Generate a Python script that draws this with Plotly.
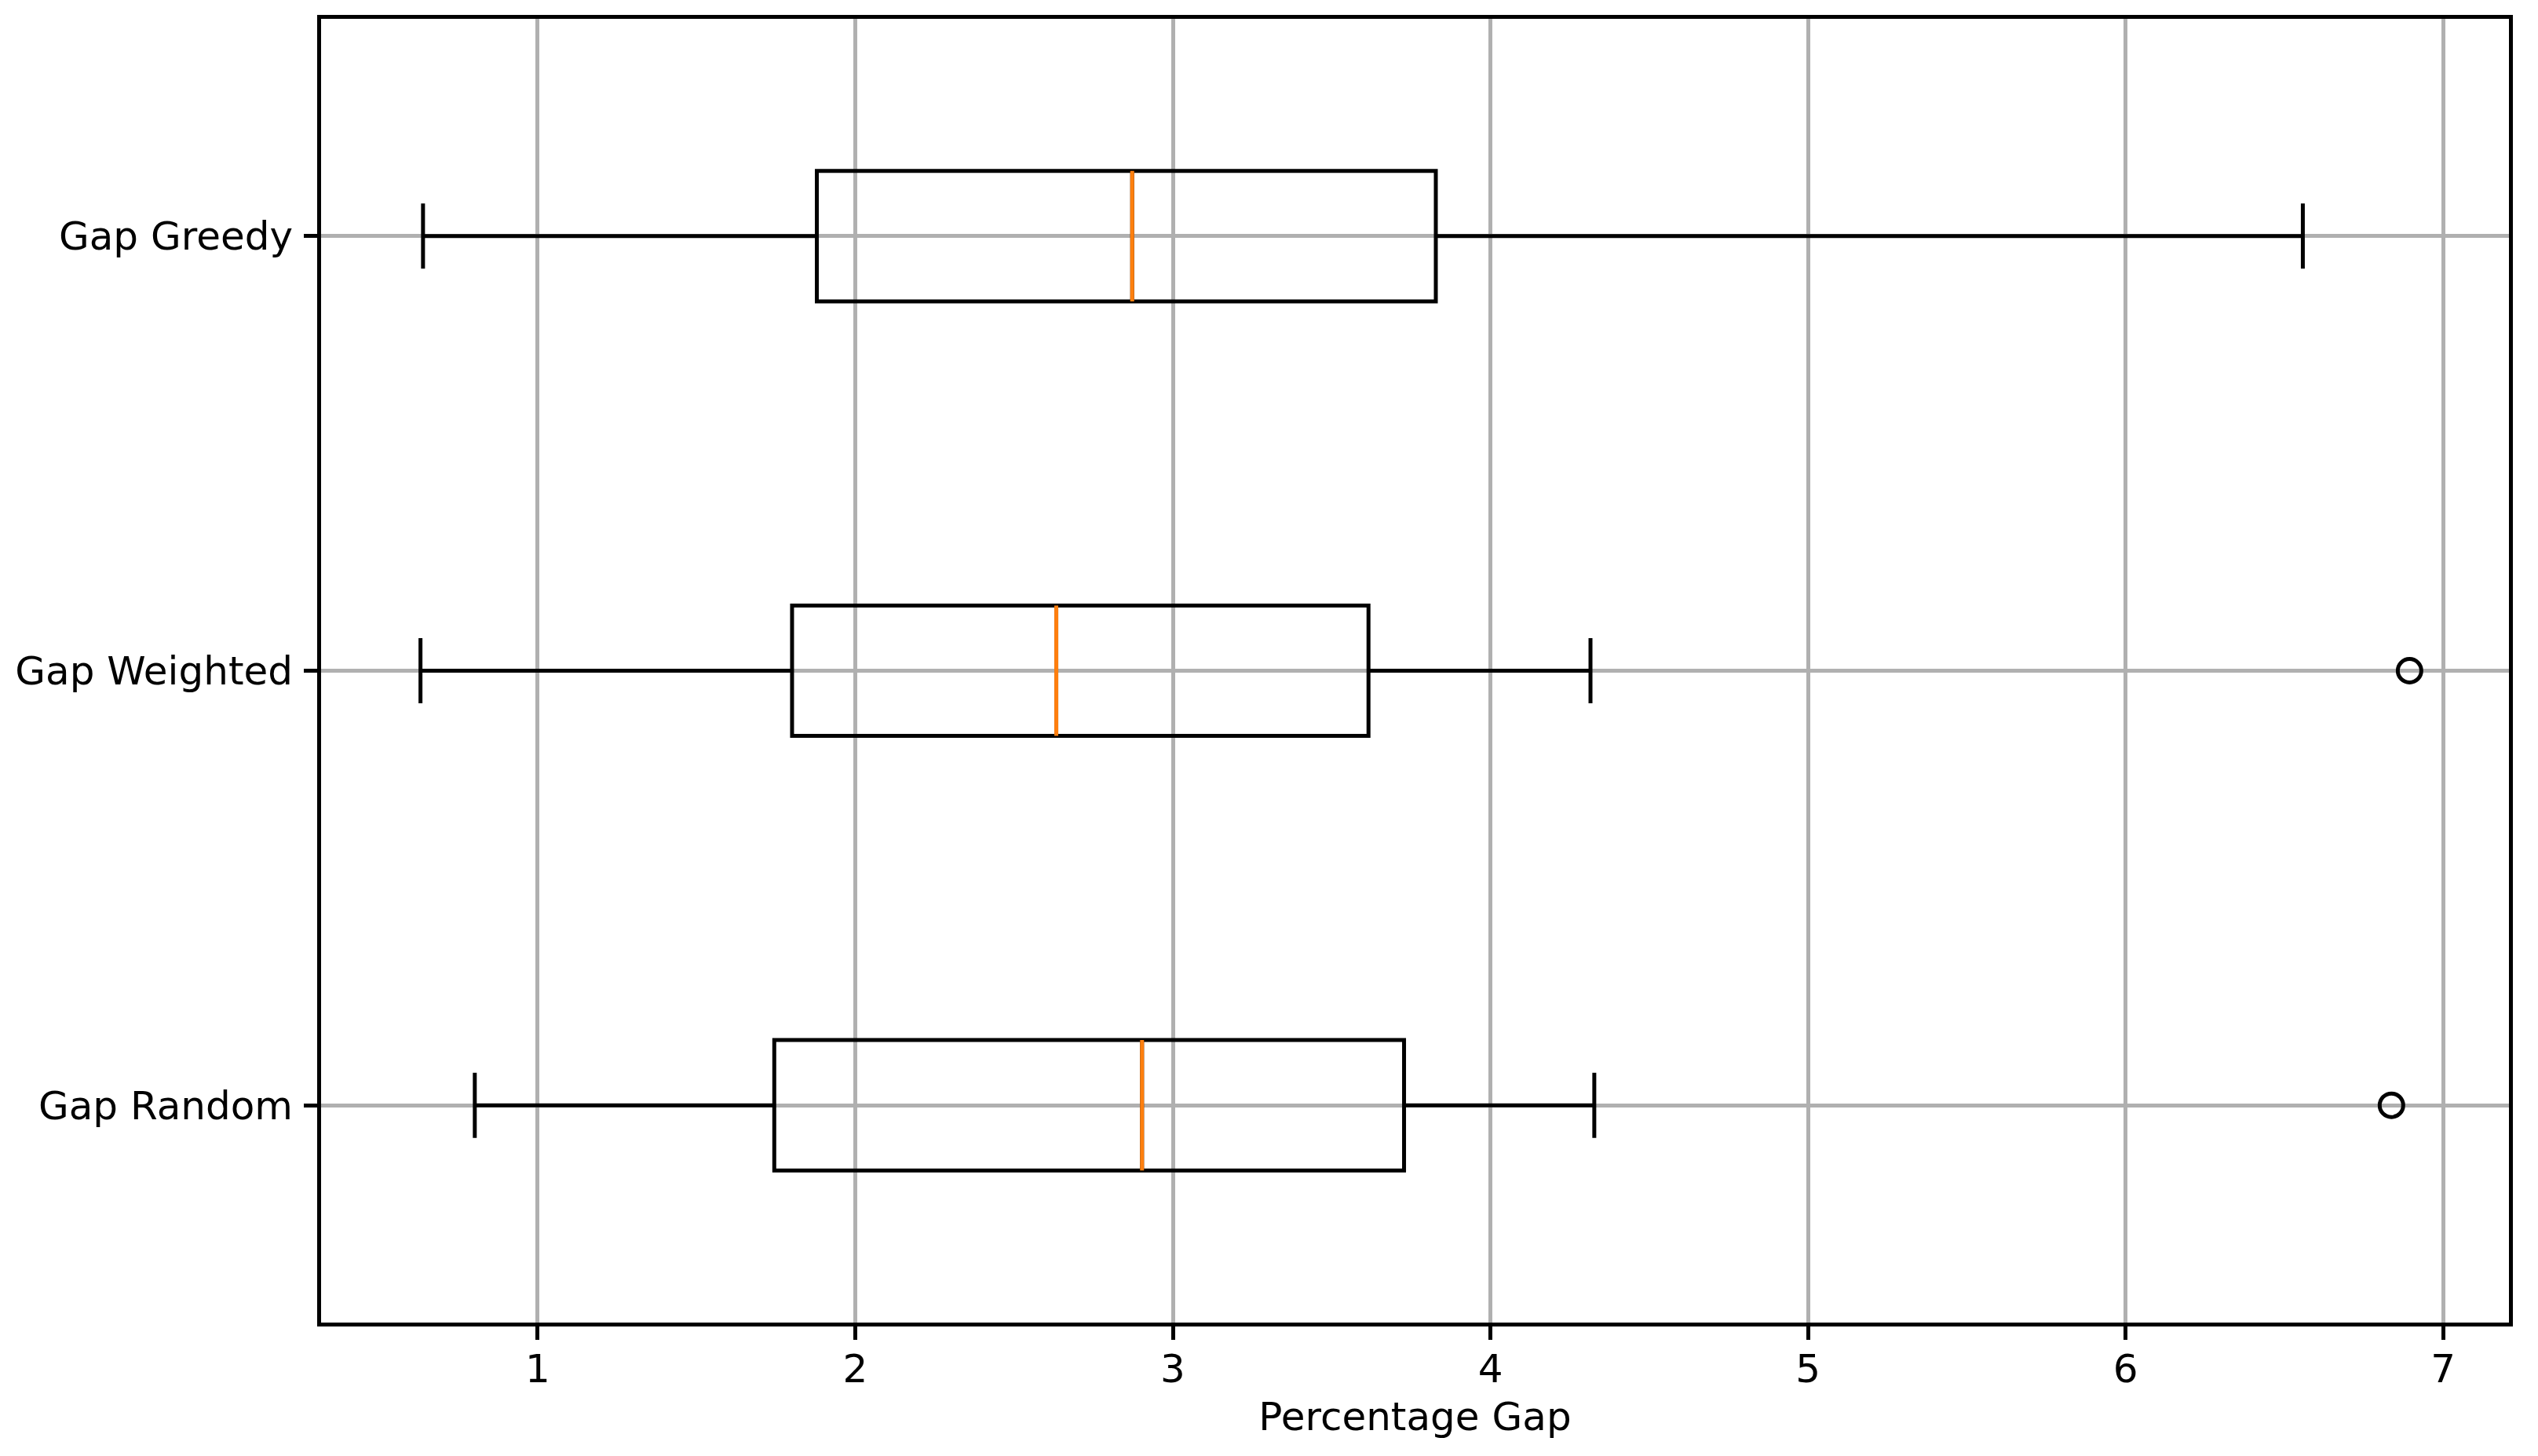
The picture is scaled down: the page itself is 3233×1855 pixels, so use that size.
import plotly.graph_objects as go

# ---- data ----
categories = ["Gap Random", "Gap Weighted", "Gap Greedy"]
positions = [1, 2, 3]
lower_whisker = [0.802, 0.631, 0.639]
q1_vals = [1.745, 1.801, 1.879]
median_vals = [2.903, 2.633, 2.872]
q3_vals = [3.728, 3.616, 3.828]
upper_whisker = [4.327, 4.315, 6.558]
outlier_x = [6.837, 6.894]
outlier_pos = [1, 2]
x_ticks = [1, 2, 3, 4, 5, 6, 7]

# ---- style ----
BOX_W = 0.3
LW = 5
FONT = "DejaVu Sans"
FS = 50
ORANGE = "#ff7f0e"

fig = go.Figure()

for cat, p, lo, a, m, b, hi in zip(categories, positions, lower_whisker,
                                   q1_vals, median_vals, q3_vals, upper_whisker):
    fig.add_trace(go.Box(
        y0=p, orientation="h",
        q1=[a], median=[m], q3=[b], lowerfence=[lo], upperfence=[hi],
        y=[p],
        width=BOX_W, whiskerwidth=0.5,
        line=dict(color="black", width=LW),
        fillcolor="rgba(0,0,0,0)",
        boxpoints=False, name=cat, showlegend=False, hoverinfo="skip",
    ))

for p, m in zip(positions, median_vals):
    fig.add_trace(go.Scatter(
        x=[m, m], y=[p - BOX_W / 2, p + BOX_W / 2], mode="lines",
        line=dict(color=ORANGE, width=LW), showlegend=False, hoverinfo="skip",
    ))

fig.add_trace(go.Scatter(
    x=outlier_x, y=outlier_pos, mode="markers",
    marker=dict(symbol="circle-open", size=30, color="black",
                line=dict(color="black", width=5)),
    showlegend=False, hoverinfo="skip",
))

axis_common = dict(
    showline=True, mirror=True, linecolor="black", linewidth=5,
    ticks="outside", ticklen=17, tickwidth=5, tickcolor="black",
    showgrid=True, gridcolor="#b0b0b0", gridwidth=5,
    zeroline=False, tickfont=dict(family=FONT, size=FS, color="black"),
    automargin=False,
)

# the page body adds an 8px offset; figure sized/margined to compensate
fig.update_layout(
    width=3225, height=1847, autosize=False,
    margin=dict(l=400.5, r=36.5, t=15.5, b=170),
    paper_bgcolor="white", plot_bgcolor="white",
    font=dict(family=FONT, size=FS, color="black"),
    xaxis=dict(range=[0.318, 7.207], tickvals=x_ticks,
               ticklabelstandoff=-6,
               title=dict(text="Percentage Gap", font=dict(family=FONT, size=FS, color="black"),
                          standoff=16),
               **axis_common),
    yaxis=dict(range=[0.5, 3.5], tickvals=positions, ticktext=categories,
               ticklabelstandoff=4, **axis_common),
)

fig.write_html("out.html")
